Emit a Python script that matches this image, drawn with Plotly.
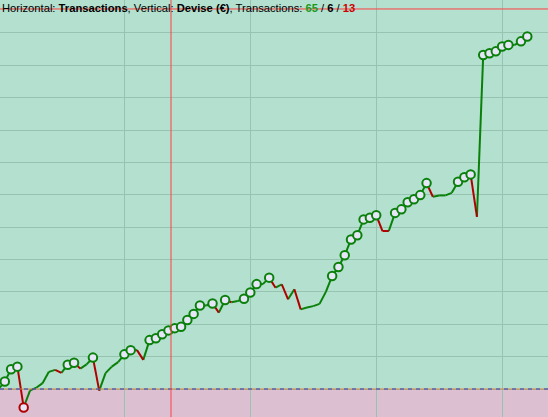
import plotly.graph_objects as go

# Equity after each transaction (Devise, €); transaction 0 = start
transactions = list(range(0, 85))
equity = [0,
          23, 61, 69, -57, -5, 4, 18, 53, 59, 50,
          75, 81, 63, 76, 97, -5, 49, 69, 83, 107,
          120, 120, 90, 151, 157, 169, 181, 188, 192, 213,
          232, 258, 258, 264, 236, 275, 268, 272, 279, 298,
          324, 324, 344, 313, 323, 277, 308, 246, 252, 256,
          263, 300, 349, 377, 413, 462, 475, 524, 529, 537,
          488, 488, 544, 555, 577, 586, 599, 636, 594, 598,
          598, 606, 640, 654, 663, 532, 1032, 1037, 1043, 1058,
          1063, 1063, 1074, 1089]

counts_win_even_loss = [65, 6, 13]
cursor_x = 27.4
cursor_y = 1174

GREEN = "#0a800a"
RED = "#b00000"
FILL = "#e6e6f8"

# split segments by direction (flat keeps previous colour)
gx, gy, rx, ry = [], [], [], []
prev_up = True
for i in range(1, len(equity)):
    d = equity[i] - equity[i - 1]
    up = prev_up if d == 0 else d > 0
    prev_up = up
    tx, ty = (gx, gy) if up else (rx, ry)
    tx += [transactions[i - 1], transactions[i], None]
    ty += [equity[i - 1], equity[i], None]

# new highs / new lows markers
hx, hy, lx, ly = [], [], [], []
hi, lo = equity[0], equity[0]
for i in range(1, len(equity)):
    v = equity[i]
    if v > hi:
        hx.append(transactions[i]); hy.append(v); hi = v
    elif v < lo:
        lx.append(transactions[i]); ly.append(v); lo = v

fig = go.Figure()
fig.add_trace(go.Scatter(x=gx, y=gy, mode="lines", line=dict(color=GREEN, width=2),
                         hoverinfo="skip", showlegend=False))
fig.add_trace(go.Scatter(x=rx, y=ry, mode="lines", line=dict(color=RED, width=2),
                         hoverinfo="skip", showlegend=False))
fig.add_trace(go.Scatter(x=hx, y=hy, mode="markers",
                         marker=dict(size=8.5, color=FILL, line=dict(color=GREEN, width=2)),
                         showlegend=False))
fig.add_trace(go.Scatter(x=lx, y=ly, mode="markers",
                         marker=dict(size=8.5, color=FILL, line=dict(color=RED, width=2)),
                         showlegend=False))

ymin, ymax = -86.5, 1201.7
xmin, xmax = 0.238, 87.29

shapes = [
    dict(type="rect", xref="paper", x0=0, x1=1, yref="y", y0=ymin, y1=0,
         fillcolor="#dcc0d2", line=dict(width=0), layer="below"),
    dict(type="line", xref="paper", x0=0, x1=1, yref="y", y0=0, y1=0,
         line=dict(color="#e08040", width=1.2), layer="above"),
    dict(type="line", xref="paper", x0=0, x1=1, yref="y", y0=0, y1=0,
         line=dict(color="#2040d0", width=1.2, dash="4px,4px"), layer="above"),
    dict(type="line", xref="x", x0=cursor_x, x1=cursor_x, yref="paper", y0=0, y1=1,
         line=dict(color="#ff4040", width=1), layer="above"),
    dict(type="line", xref="paper", x0=0, x1=1, yref="y", y0=cursor_y, y1=cursor_y,
         line=dict(color="#ff4040", width=1), layer="above"),
]

w, e, l = counts_win_even_loss
header = ("Horizontal: <b>Transactions</b>, Vertical: <b>Devise (€)</b>, Transactions: "
          f"<span style='color:#1a9a1a'><b>{w}</b></span> / <b>{e}</b> / "
          f"<span style='color:#cc0000'><b>{l}</b></span>")

fig.update_layout(
    width=548, height=417,
    margin=dict(l=0, r=0, t=0, b=0),
    paper_bgcolor="#b3e0cf",
    plot_bgcolor="#b3e0cf",
    shapes=shapes,
    xaxis=dict(range=[xmin, xmax], dtick=20, tick0=0, showgrid=True,
               gridcolor="#96c4b0", gridwidth=1, zeroline=False,
               showticklabels=False, ticks="", fixedrange=True),
    yaxis=dict(range=[ymin, ymax], dtick=100, tick0=0, showgrid=True,
               gridcolor="#96c4b0", gridwidth=1, zeroline=False,
               showticklabels=False, ticks="", fixedrange=True),
    annotations=[dict(text=header, xref="paper", yref="paper", x=0, y=1,
                      xanchor="left", yanchor="top", showarrow=False,
                      xshift=0, yshift=0,
                      font=dict(family="Liberation Sans, Arial", size=11.2, color="#000"))],
    font=dict(family="Liberation Sans, Arial"),
)

fig.write_html("out.html", config={"displayModeBar": False},
               post_script="document.body.style.margin='0';document.body.style.overflow='hidden';")
